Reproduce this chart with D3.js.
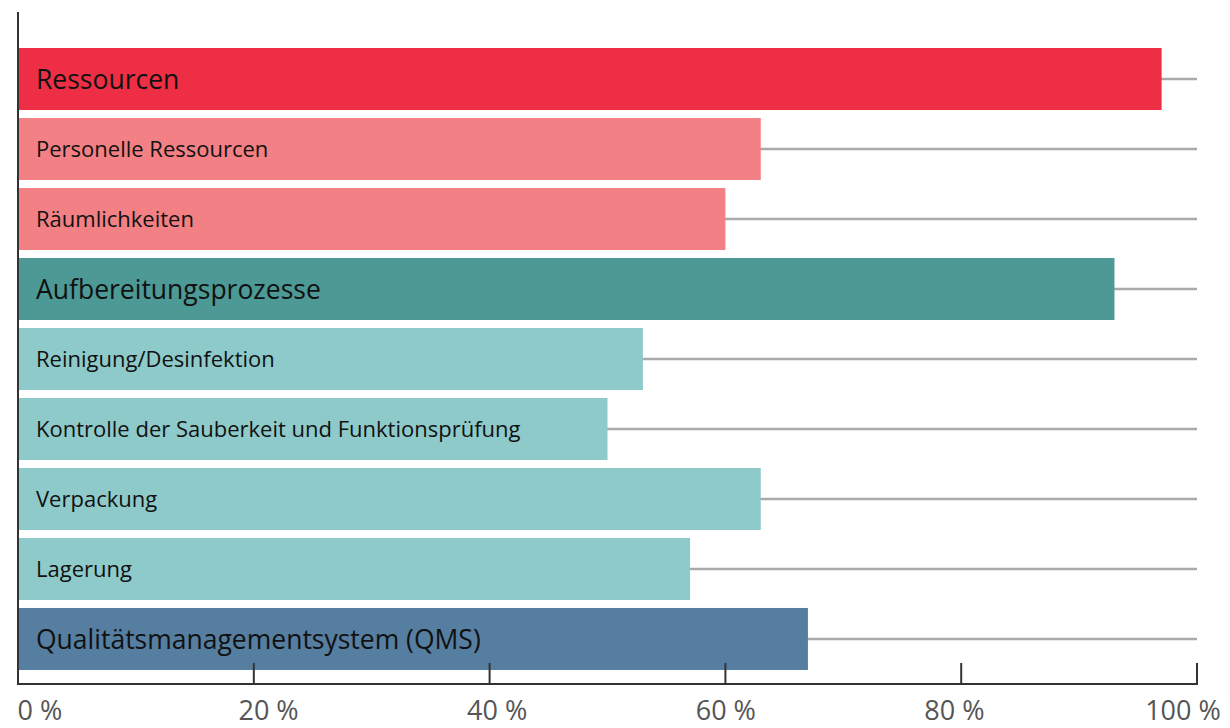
<!DOCTYPE html>
<html>
<head>
<meta charset="utf-8">
<script src="https://cdn.jsdelivr.net/npm/d3@7"></script>
<style>
  body { margin: 0; background: #fff; }
  svg { display: block; font-family: "Open Sans", "Noto Sans", sans-serif; }
</style>
</head>
<body>
<svg width="1230" height="728"></svg>
<script>
// daten
const kategorien = ["Ressourcen", "Personelle Ressourcen", "Räumlichkeiten", "Aufbereitungsprozesse",
  "Reinigung/Desinfektion", "Kontrolle der Sauberkeit und Funktionsprüfung", "Verpackung", "Lagerung",
  "Qualitätsmanagementsystem (QMS)"]
const werte = [97, 63, 60, 93, 53, 50, 63, 57, 67]
const gruppe = ["haupt", "unter", "unter", "haupt", "unter", "unter", "unter", "unter", "haupt"]
const farben = ["#ee2e44", "#f38084", "#f38084", "#4c9996", "#8ecaca", "#8ecaca", "#8ecaca", "#8ecaca", "#557ea0"]
const ticks = [0, 20, 40, 60, 80, 100]
const tickLabels = ["0 %", "20 %", "40 %", "60 %", "80 %", "100 %"]

const svg = d3.select("svg")

let x = d3.scaleLinear().domain([0, 100]).range([18, 1197])
// beschriftung ist ueber die ganze breite verteilt
let xLabel = d3.scaleLinear().domain([0, 100]).range([40, 1183])
let y = d3.scaleBand().domain(kategorien).range([48, 670]).paddingInner(0.114).paddingOuter(0)

// graue linien
svg.append("g").selectAll("line")
  .data(kategorien)
  .join("line")
  .attr("x1", x(0))
  .attr("x2", x(100))
  .attr("y1", d => y(d) + y.bandwidth() / 2)
  .attr("y2", d => y(d) + y.bandwidth() / 2)
  .attr("stroke", "#aaaaaa")
  .attr("stroke-width", 2.5)

// balken
svg.append("g").selectAll("rect")
  .data(kategorien)
  .join("rect")
  .attr("x", x(0))
  .attr("y", d => y(d))
  .attr("width", (d, i) => x(werte[i]) - x(0))
  .attr("height", y.bandwidth())
  .attr("fill", (d, i) => farben[i])

svg.append("g").selectAll("text")
  .data(kategorien)
  .join("text")
  .attr("x", 36)
  .attr("y", d => y(d) + y.bandwidth() / 2)
  .attr("dy", "0.36em")
  .attr("font-size", (d, i) => gruppe[i] == "haupt" ? 26.5 : 22)
  .attr("fill", "#111")
  .text(d => d)

// achsen
svg.append("line")
  .attr("x1", x(0)).attr("x2", x(0))
  .attr("y1", 12).attr("y2", 685)
  .attr("stroke", "#333").attr("stroke-width", 2)

svg.append("line")
  .attr("x1", x(0) - 1).attr("x2", x(100) + 1)
  .attr("y1", 684).attr("y2", 684)
  .attr("stroke", "#333").attr("stroke-width", 2)

svg.append("g").selectAll("line")
  .data(ticks.slice(1))
  .join("line")
  .attr("x1", d => x(d)).attr("x2", d => x(d))
  .attr("y1", 663).attr("y2", 684)
  .attr("stroke", "#333").attr("stroke-width", 2)

svg.append("g").selectAll("text")
  .data(ticks)
  .join("text")
  .attr("x", d => xLabel(d))
  .attr("y", 720)
  .attr("text-anchor", "middle")
  .attr("font-size", 27)
  .attr("fill", "#555")
  .text((d, i) => tickLabels[i])
</script>
</body>
</html>
